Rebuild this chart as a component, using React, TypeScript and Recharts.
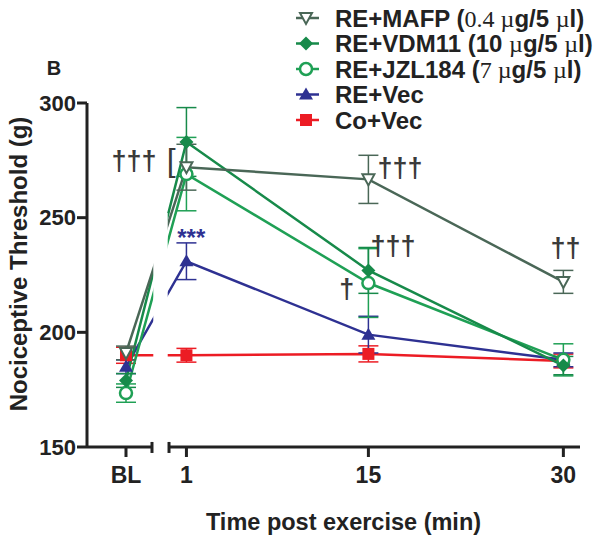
import React from 'react';
import {
  ComposedChart, Line, XAxis, YAxis, ErrorBar, ReferenceLine, ReferenceArea, ReferenceDot,
} from 'recharts';

// ---- data ----
const X_BL = -3.65; // virtual x position of the baseline (BL) point on the broken axis
const TIME_POINTS = [X_BL, 1, 15, 30];
const TICK_LABELS = ['BL', '1', '15', '30'];

const MAFP = [191, 272, 266.7, 222];
const MAFP_ERR = [3, 10, 10.5, 5];
const VDM11 = [179, 283, 227, 185.5];
const VDM11_ERR = [3, 15, 10, 4];
const JZL184 = [173.5, 269, 221.5, 188];
const JZL184_ERR = [4, 16, 15, 7];
const RE_VEC = [185, 231, 199, 188];
const RE_VEC_ERR = [3, 8, 8, 3];
const CO_VEC = [190, 190, 190.6, 187.5];
const CO_VEC_ERR = [3.5, 3, 3.5, 3];

const Y_TICKS = [150, 200, 250, 300];
const X_DOMAIN = [-6.65, 31.28];
const Y_DOMAIN = [150, 300];
const BREAK_START = -1.65;
const BREAK_END = -0.34;

const ANNOTATIONS = [
  { x: -3.03, y: 270.9, text: '†††', kind: 'dagger' },
  { x: -0.18, y: 270.5, text: '[', kind: 'bracket' },
  { x: 1.37, y: 237.7, text: '***', kind: 'star' },
  { x: 17.43, y: 267.9, text: '†††', kind: 'dagger' },
  { x: 16.89, y: 233.8, text: '†††', kind: 'dagger' },
  { x: 13.33, y: 215, text: '†', kind: 'dagger' },
  { x: 30.16, y: 232.9, text: '††', kind: 'dagger' },
];

const SERIES = [
  { key: 'co', values: CO_VEC, errs: CO_VEC_ERR, color: '#ec1c24', shape: 'square',
    label: [{ t: 'Co+Vec', serif: false }] },
  { key: 'vec', values: RE_VEC, errs: RE_VEC_ERR, color: '#2e3192', shape: 'triUp',
    label: [{ t: 'RE+Vec', serif: false }] },
  { key: 'jzl', values: JZL184, errs: JZL184_ERR, color: '#1fa055', shape: 'circle',
    label: [{ t: 'RE+JZL184 (', serif: false }, { t: '7 µ', serif: true }, { t: 'g/5 ', serif: false }, { t: 'µ', serif: true }, { t: 'l)', serif: false }] },
  { key: 'vdm', values: VDM11, errs: VDM11_ERR, color: '#178a4a', shape: 'diamond',
    label: [{ t: 'RE+VDM11 (10 ', serif: false }, { t: 'µ', serif: true }, { t: 'g/5 ', serif: false }, { t: 'µ', serif: true }, { t: 'l)', serif: false }] },
  { key: 'mafp', values: MAFP, errs: MAFP_ERR, color: '#4a6757', shape: 'triDown',
    label: [{ t: 'RE+MAFP (', serif: false }, { t: '0.4 µ', serif: true }, { t: 'g/5 ', serif: false }, { t: 'µ', serif: true }, { t: 'l)', serif: false }] },
];
const LEGEND_ORDER = ['mafp', 'vdm', 'jzl', 'vec', 'co'];

const data = TIME_POINTS.map((x, i) => {
  const row: any = { x };
  SERIES.forEach((s) => {
    row[s.key] = s.values[i];
    row[s.key + 'Err'] = s.errs[i];
  });
  return row;
});

const SANS = '"Liberation Sans", Arial, Helvetica, sans-serif';
const SERIF = '"Liberation Serif", "Times New Roman", serif';
const INK = '#222';

function Marker({ shape, color, cx, cy }: any) {
  if (cx == null || cy == null) return null;
  switch (shape) {
    case 'square':
      return <rect x={cx - 6} y={cy - 6} width={12} height={12} fill={color} />;
    case 'triUp':
      return <path d={`M${cx},${cy - 7}L${cx + 7},${cy + 5}L${cx - 7},${cy + 5}Z`} fill={color} />;
    case 'triDown':
      return <path d={`M${cx - 6},${cy - 5}L${cx + 6},${cy - 5}L${cx},${cy + 6}Z`} fill="#fff" stroke={color} strokeWidth={2} />;
    case 'diamond':
      return <path d={`M${cx},${cy - 7}L${cx + 7},${cy}L${cx},${cy + 7}L${cx - 7},${cy}Z`} fill={color} />;
    case 'circle':
      return <circle cx={cx} cy={cy} r={6} fill="#fff" stroke={color} strokeWidth={2.5} />;
    default:
      return null;
  }
}

const makeDot = (shape: string, color: string) => (p: any) => (
  <g key={`${shape}-${p.index}`}>
    <Marker shape={shape} color={color} cx={p.cx} cy={p.cy} />
  </g>
);

const annStyle: Record<string, any> = {
  dagger: { fontSize: 27, fontWeight: 700, fill: '#3a3a3a' },
  bracket: { fontSize: 32, fontWeight: 400, fill: '#3a3a3a' },
  star: { fontSize: 24, fontWeight: 700, fill: '#2e3192' },
};

const makeAnn = (a: any) => (p: any) => (
  <text x={p.cx} y={p.cy} textAnchor="middle" fontFamily={SANS} {...annStyle[a.kind]}>
    {a.text}
  </text>
);

function Overlay() {
  const rowY = (i: number) => 18 + i * 25.5;
  return (
    <svg width={600} height={539} style={{ position: 'absolute', left: 0, top: 0, pointerEvents: 'none' }}>
      <text x={54} y={75} textAnchor="middle" fontFamily={SANS} fontWeight={700} fontSize={20} fill={INK}>B</text>
      <text transform="translate(27,264) rotate(-90)" textAnchor="middle" fontFamily={SANS} fontWeight={700} fontSize={24} fill={INK}>
        Nociceptive Threshold (g)
      </text>
      {LEGEND_ORDER.map((k, i) => {
        const s = SERIES.find((q) => q.key === k)!;
        const cy = rowY(i);
        return (
          <g key={k}>
            <line x1={296} x2={319} y1={cy} y2={cy} stroke={s.color} strokeWidth={2.5} />
            <Marker shape={s.shape} color={s.color} cx={306} cy={cy} />
            <text x={335} y={cy + 8.5} fontFamily={SANS} fontWeight={700} fontSize={24} fill={INK}>
              {s.label.map((part, j) => (
                <tspan key={j} fontFamily={part.serif ? SERIF : SANS} fontWeight={part.serif ? 400 : 700}>
                  {part.t}
                </tspan>
              ))}
            </text>
          </g>
        );
      })}
    </svg>
  );
}

export default function App() {
  return (
    <div style={{ position: 'absolute', left: 0, top: 0, width: 600, height: 539, background: '#fff' }}>
      <ComposedChart width={600} height={539} data={data} margin={{ top: 103, right: 20, bottom: 0, left: 0 }}>
        <XAxis
          dataKey="x"
          type="number"
          domain={X_DOMAIN}
          ticks={TIME_POINTS}
          tickFormatter={(v: number) => TICK_LABELS[TIME_POINTS.indexOf(v)] ?? ''}
          axisLine={false}
          tickLine={{ stroke: INK, strokeWidth: 3 }}
          tickSize={10}
          tickMargin={10}
          height={92}
          interval={0}
          allowDataOverflow
          tick={{ fill: INK, fontSize: 23, fontWeight: 700, fontFamily: SANS }}
          label={{ value: 'Time post exercise (min)', position: 'insideBottom', offset: 9, dx: 10, fill: INK, fontSize: 23.5, fontWeight: 700, fontFamily: SANS }}
        />
        <YAxis
          type="number"
          domain={Y_DOMAIN}
          ticks={Y_TICKS}
          width={87}
          interval={0}
          allowDataOverflow
          axisLine={{ stroke: INK, strokeWidth: 3 }}
          tickLine={{ stroke: INK, strokeWidth: 3 }}
          tickSize={10}
          tickMargin={1}
          tick={{ fill: INK, fontSize: 22, fontWeight: 700, fontFamily: SANS }}
        />
        {SERIES.map((s) => (
          <Line
            key={s.key}
            dataKey={s.key}
            type="linear"
            stroke={s.color}
            strokeWidth={2.5}
            dot={makeDot(s.shape, s.color)}
            activeDot={false}
            isAnimationActive={false}
          >
            <ErrorBar dataKey={s.key + 'Err'} direction="y" width={10} stroke={s.color} strokeWidth={1.5} />
          </Line>
        ))}
        <ReferenceArea
          x1={BREAK_START + 0.1}
          x2={BREAK_END - 0.1}
          y1={153}
          y2={252}
          fill="#fff"
          fillOpacity={1}
          stroke="none"
          ifOverflow="visible"
          zIndex={450}
        />
        <ReferenceLine segment={[{ x: X_DOMAIN[0], y: 150 }, { x: BREAK_START, y: 150 }]} stroke={INK} strokeWidth={3} ifOverflow="visible" zIndex={460} />
        <ReferenceLine segment={[{ x: BREAK_END, y: 150 }, { x: X_DOMAIN[1], y: 150 }]} stroke={INK} strokeWidth={3} ifOverflow="visible" zIndex={460} />
        <ReferenceLine segment={[{ x: BREAK_START, y: 147.4 }, { x: BREAK_START, y: 152.2 }]} stroke={INK} strokeWidth={3} ifOverflow="visible" zIndex={460} />
        <ReferenceLine segment={[{ x: BREAK_END, y: 147.4 }, { x: BREAK_END, y: 152.2 }]} stroke={INK} strokeWidth={3} ifOverflow="visible" zIndex={460} />
        {ANNOTATIONS.map((a, i) => (
          <ReferenceDot key={i} x={a.x} y={a.y} r={0} shape={makeAnn(a)} ifOverflow="visible" zIndex={470} />
        ))}
      </ComposedChart>
      <Overlay />
    </div>
  );
}
